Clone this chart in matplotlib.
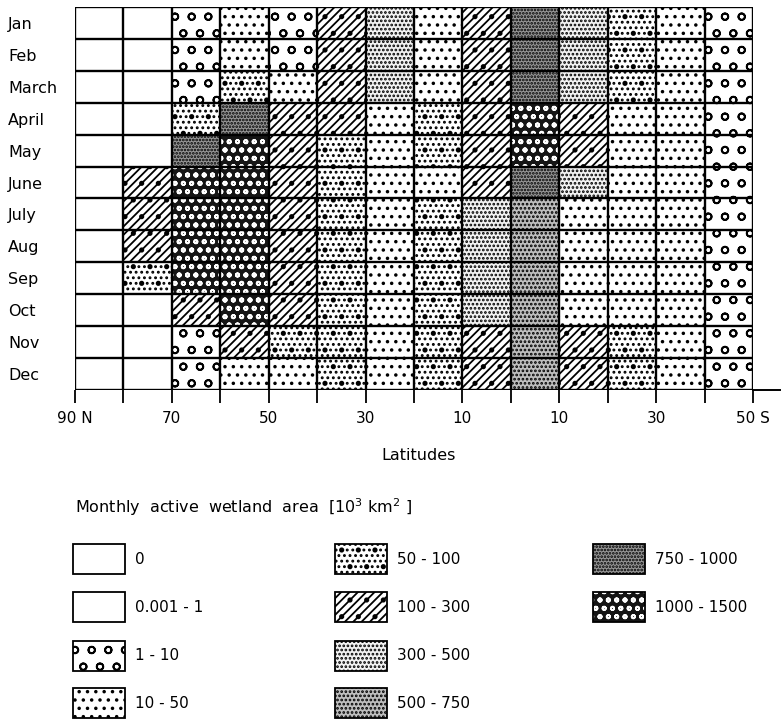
import matplotlib
matplotlib.use("Agg")
import matplotlib.pyplot as plt
from matplotlib.patches import Rectangle
import numpy as np

months = ["Jan", "Feb", "March", "April", "May", "June",
          "July", "Aug", "Sep", "Oct", "Nov", "Dec"]
lat_edges = np.arange(90, -60, -10)          # 90N ... 50S
tick_lats = np.arange(90, -60, -20)
tick_labels = ["90 N", "70", "50", "30", "10", "10", "30", "50 S"]
classes = ["0", "0.001 - 1", "1 - 10", "10 - 50", "50 - 100",
           "100 - 300", "300 - 500", "500 - 750", "750 - 1000", "1000 - 1500"]

# class index for each 10 degree band, 90N -> 50S
jan = [0, 0, 2, 3, 2, 5, 6, 3, 5, 8, 6, 4, 3, 2]
feb = [0, 0, 2, 3, 2, 5, 6, 3, 5, 8, 6, 4, 3, 2]
mar = [0, 0, 2, 4, 3, 5, 6, 3, 5, 8, 6, 4, 3, 2]
apr = [0, 0, 4, 8, 5, 5, 3, 4, 5, 9, 5, 3, 3, 2]
may = [0, 0, 8, 9, 5, 4, 3, 4, 5, 9, 5, 3, 3, 2]
jun = [0, 5, 9, 9, 5, 4, 3, 3, 5, 8, 6, 3, 3, 2]
jul = [0, 5, 9, 9, 5, 4, 3, 4, 6, 7, 3, 3, 3, 2]
aug = [0, 5, 9, 9, 5, 4, 3, 4, 6, 7, 3, 3, 3, 2]
sep = [0, 4, 9, 9, 5, 4, 3, 4, 6, 7, 3, 3, 3, 2]
octo = [0, 0, 5, 9, 5, 4, 3, 4, 6, 7, 3, 3, 3, 2]
nov = [0, 0, 2, 5, 4, 4, 3, 4, 5, 7, 5, 4, 3, 2]
dec = [1, 0, 2, 3, 3, 4, 3, 4, 5, 7, 5, 4, 3, 2]
grid = [jan, feb, mar, apr, may, jun, jul, aug, sep, octo, nov, dec]

# (face, hatch, hatch colour, extra hatch on top) per class
styles = {
    0: ("white", None, "black", None),
    1: ("white", None, "black", None),
    2: ("white", "o", "black", None),
    3: ("white", "..", "black", None),
    4: ("white", "...", "black", "."),
    5: ("white", "////", "black", "."),
    6: ("#f2f2f2", "....", "black", None),
    7: ("#bebebe", "....", "black", None),
    8: ("#979797", ".....", "black", None),
    9: ("#151515", "oo", "white", None),
}

plt.rcParams["font.family"] = "DejaVu Sans"
plt.rcParams["hatch.linewidth"] = 1.3

fig = plt.figure(figsize=(7.81, 7.22), dpi=100)
ax = fig.add_axes([75 / 781, 1 - 390 / 722, 678 / 781, 383 / 722])

for i, row in enumerate(grid):
    for j, k in enumerate(row):
        face, h, hc, h2 = styles[k]
        ax.bar(lat_edges[j], 1, width=-10, bottom=i, align="edge",
               color=face, hatch=h, edgecolor=hc, linewidth=0)
        if h2:
            ax.bar(lat_edges[j], 1, width=-10, bottom=i, align="edge",
                   fill=False, hatch=h2, edgecolor="black", linewidth=0)

ax.vlines(lat_edges, 0, 12, color="black", lw=1.7)
ax.hlines(np.arange(13), 90, -50, color="black", lw=1.7)
ax.plot([-50, -55.5], [12, 12], color="black", lw=1.4, clip_on=False)

ax.set_xlim(90, -50)
ax.set_ylim(12, 0)
for s in ax.spines.values():
    s.set_visible(False)

ax.set_xticks(tick_lats)
ax.set_xticklabels(tick_labels, fontsize=11)
ax.set_xticks(np.arange(80, -50, -20), minor=True)
ax.tick_params(axis="x", which="both", direction="out", length=9,
               width=1.3, pad=6)
ax.set_yticks(np.arange(12) + 0.5)
ax.set_yticklabels(months, fontsize=11.5, ha="left")
ax.tick_params(axis="y", length=0, pad=48)

fig.text(419 / 781, 1 - 455 / 722, "Latitudes", ha="center", va="center",
         fontsize=11.5)
fig.text(75 / 781, 1 - 507 / 722,
         "Monthly  active  wetland  area  [10$^{3}$ km$^{2}$ ]",
         ha="left", va="center", fontsize=11.5)

# legend in pixel units
leg = fig.add_axes([0, 0, 1, 1])
leg.set_xlim(0, 781)
leg.set_ylim(722, 0)
leg.axis("off")
col_x = [73, 335, 593]
row_y = [559, 607, 656, 703]
for k, name in enumerate(classes):
    x0 = col_x[k // 4]
    y0 = row_y[k % 4]
    face, h, hc, h2 = styles[k]
    leg.add_patch(Rectangle((x0, y0 - 15), 52, 30, facecolor=face,
                            hatch=h, edgecolor=hc, linewidth=0))
    if h2:
        leg.add_patch(Rectangle((x0, y0 - 15), 52, 30, fill=False,
                                hatch=h2, edgecolor="black", linewidth=0))
    leg.add_patch(Rectangle((x0, y0 - 15), 52, 30, fill=False,
                            edgecolor="black", linewidth=1.3))
    leg.text(x0 + 62, y0, name, ha="left", va="center", fontsize=11)

fig.savefig("out.png", dpi=100)
